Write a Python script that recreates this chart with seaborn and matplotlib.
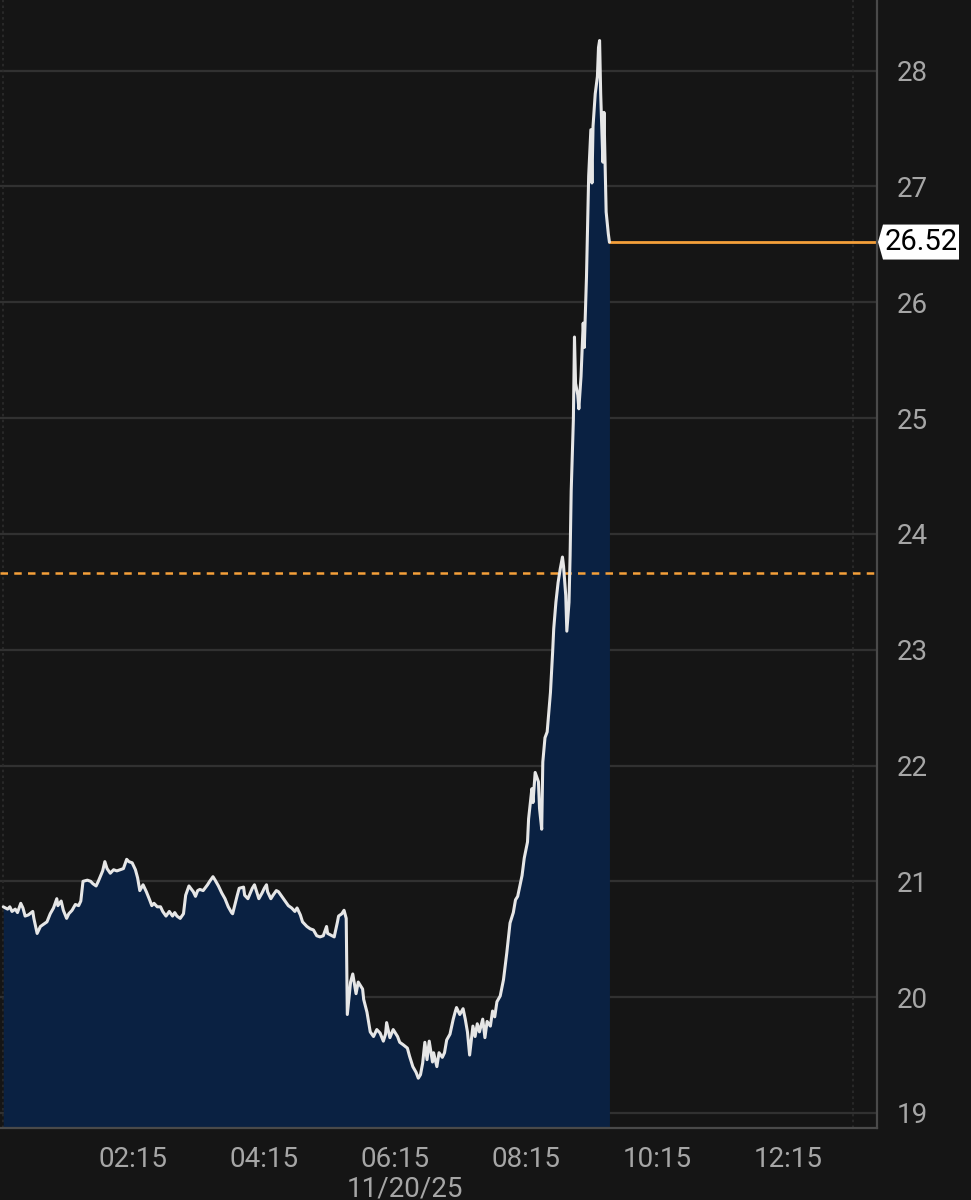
import pandas as pd
import matplotlib
matplotlib.use("Agg")
import matplotlib.pyplot as plt
import matplotlib.transforms as mtransforms
from matplotlib.patches import Polygon
import seaborn as sns

# Intraday prints (time, value)
times = [
    "00:16", "00:20", "00:22", "00:24", "00:27", "00:29", "00:32", "00:34", "00:36", "00:39",
    "00:43", "00:44", "00:47", "00:50", "00:53", "00:56", "00:59", "01:02", "01:05", "01:06",
    "01:09", "01:11", "01:14", "01:16", "01:19", "01:22", "01:25", "01:27", "01:29", "01:33",
    "01:36", "01:38", "01:41", "01:43", "01:47", "01:49", "01:51", "01:54", "01:57", "02:00",
    "02:03", "02:06", "02:09", "02:11", "02:14", "02:17", "02:19", "02:21", "02:24", "02:27",
    "02:30", "02:32", "02:34", "02:37", "02:40", "02:42", "02:45", "02:48", "02:51", "02:53",
    "02:55", "02:58", "03:01", "03:03", "03:06", "03:10", "03:12", "03:14", "03:16", "03:19",
    "03:23", "03:25", "03:28", "03:30", "03:33", "03:36", "03:39", "03:42", "03:45", "03:46",
    "03:50", "03:52", "03:56", "03:57", "04:00", "04:04", "04:06", "04:08", "04:10", "04:13",
    "04:15", "04:17", "04:18", "04:21", "04:23", "04:26", "04:28", "04:31", "04:34", "04:37",
    "04:40", "04:43", "04:45", "04:48", "04:50", "04:54", "04:57", "05:00", "05:03", "05:06",
    "05:09", "05:12", "05:13", "05:17", "05:19", "05:22", "05:23", "05:26", "05:28", "05:30",
    "05:31", "05:34", "05:36", "05:39", "05:41", "05:45", "05:46", "05:49", "05:52", "05:55",
    "05:58", "06:01", "06:04", "06:06", "06:07", "06:10", "06:13", "06:17", "06:19", "06:22",
    "06:26", "06:28", "06:31", "06:34", "06:36", "06:38", "06:40", "06:42", "06:44", "06:46",
    "06:49", "06:50", "06:53", "06:55", "06:58", "07:00", "07:02", "07:05", "07:08", "07:10",
    "07:11", "07:14", "07:17", "07:19", "07:21", "07:23", "07:26", "07:28", "07:30", "07:32",
    "07:35", "07:37", "07:39", "07:42", "07:44", "07:46", "07:48", "07:51", "07:54", "07:57",
    "08:00", "08:03", "08:05", "08:07", "08:11", "08:13", "08:16", "08:17", "08:20", "08:21",
    "08:23", "08:26", "08:27", "08:29", "08:30", "08:32", "08:34", "08:36", "08:37", "08:39",
    "08:40", "08:42", "08:44", "08:46", "08:48", "08:49", "08:51", "08:52", "08:54", "08:55",
    "08:56", "08:58", "08:59", "09:00", "09:02", "09:03", "09:05", "09:07", "09:08", "09:10",
    "09:11", "09:12", "09:14", "09:15", "09:16", "09:18", "09:20", "09:21", "09:22", "09:23",
    "09:24", "09:25", "09:26", "09:27", "09:28", "09:30", "09:31",
]
values = [
    20.78, 20.76, 20.78, 20.74, 20.76, 20.73, 20.81, 20.77, 20.70, 20.71,
    20.74, 20.68, 20.55, 20.61, 20.63, 20.65, 20.72, 20.77, 20.85, 20.79,
    20.83, 20.75, 20.68, 20.72, 20.75, 20.80, 20.79, 20.83, 21.00, 21.01,
    21.00, 20.98, 20.96, 21.00, 21.09, 21.17, 21.11, 21.07, 21.10, 21.09,
    21.10, 21.11, 21.19, 21.17, 21.16, 21.10, 21.03, 20.92, 20.97, 20.91,
    20.84, 20.79, 20.81, 20.78, 20.78, 20.74, 20.70, 20.74, 20.70, 20.73,
    20.70, 20.68, 20.72, 20.88, 20.96, 20.91, 20.87, 20.92, 20.93, 20.92,
    20.97, 21.00, 21.04, 21.01, 20.96, 20.90, 20.85, 20.78, 20.73, 20.72,
    20.87, 20.94, 20.95, 20.88, 20.85, 20.94, 20.97, 20.91, 20.85, 20.90,
    20.94, 20.97, 20.91, 20.85, 20.88, 20.92, 20.91, 20.87, 20.83, 20.79,
    20.77, 20.74, 20.77, 20.71, 20.65, 20.61, 20.59, 20.58, 20.53, 20.52,
    20.53, 20.61, 20.55, 20.53, 20.52, 20.65, 20.70, 20.72, 20.75, 20.68,
    19.85, 20.13, 20.20, 20.03, 20.13, 20.07, 19.98, 19.87, 19.70, 19.66,
    19.72, 19.69, 19.62, 19.68, 19.78, 19.65, 19.72, 19.66, 19.61, 19.59,
    19.56, 19.49, 19.40, 19.35, 19.30, 19.33, 19.43, 19.61, 19.46, 19.62,
    19.44, 19.52, 19.40, 19.52, 19.48, 19.52, 19.63, 19.68, 19.81, 19.88,
    19.91, 19.85, 19.90, 19.81, 19.70, 19.50, 19.75, 19.66, 19.77, 19.70,
    19.81, 19.65, 19.79, 19.75, 19.88, 19.83, 19.96, 20.01, 20.15, 20.38,
    20.64, 20.73, 20.84, 20.87, 21.05, 21.20, 21.34, 21.54, 21.80, 21.68,
    21.94, 21.86, 21.63, 21.45, 22.03, 22.24, 22.29, 22.52, 22.63, 22.98,
    23.18, 23.41, 23.58, 23.70, 23.80, 23.72, 23.47, 23.16, 23.41, 23.81,
    24.37, 24.99, 25.70, 25.30, 25.20, 25.08, 25.36, 25.82, 25.61, 26.22,
    26.66, 27.09, 27.49, 27.03, 27.52, 27.80, 27.95, 28.20, 28.26, 27.80,
    27.49, 27.21, 27.64, 27.21, 26.78, 26.59, 26.52,
]

last_price = 26.52
prev_close = 23.66
y_ticks = [19, 20, 21, 22, 23, 24, 25, 26, 27, 28]
x_tick_labels = ["02:15", "04:15", "06:15", "08:15", "10:15", "12:15"]
session_marks = ["00:16", "13:14"]
x_range = ["00:13", "13:36"]
y_range = [18.87, 28.61]
date_label = "11/20/25"
day = "2025-11-20 "

BG = "#151515"
FILL = "#0a2142"
LINE = "#e6e6e6"
GRID = "#313131"
SPINE = "#4a4a4a"
ORANGE = "#f5a03a"
TICK = "#a6a6a6"

df = pd.DataFrame({"time": pd.to_datetime([day + t for t in times]), "value": values})
x_lo, x_hi = pd.to_datetime([day + t for t in x_range])

sns.set_theme(style="dark", rc={"axes.facecolor": BG, "figure.facecolor": BG})
plt.rcParams["font.family"] = ["Roboto", "DejaVu Sans"]

fig = plt.figure(figsize=(9.71, 12), dpi=100, facecolor=BG)
ax = fig.add_axes([0.0, 0.06, 877 / 971, 0.94])
ax.set_facecolor(BG)

# gridlines and session markers
for v in y_ticks:
    ax.axhline(v, color=GRID, lw=1.6, zorder=0)
for t in session_marks:
    ax.axvline(pd.to_datetime(day + t), color="#2c2c2c", lw=1.2, ls=(0, (1.5, 2)), zorder=0)

# area + line
ax.fill_between(df["time"], df["value"], y_range[0], color=FILL, lw=0, zorder=1)
sns.lineplot(data=df, x="time", y="value", ax=ax, color=LINE, lw=2.2, zorder=3)

# previous close (dashed) and last price (solid)
ax.axhline(prev_close, color=ORANGE, lw=1.8, ls=(0, (3, 2.5)), zorder=2)
ax.plot([df["time"].iloc[-1], x_hi], [last_price, last_price], color=ORANGE, lw=2, zorder=2)

ax.set_xlim(x_lo, x_hi)
ax.set_ylim(*y_range)

# ticks
ax.set_xticks(pd.to_datetime([day + t for t in x_tick_labels]))
ax.set_xticklabels(x_tick_labels)
ax.set_yticks(y_ticks)
ax.set_yticklabels([str(v) for v in y_ticks])
ax.yaxis.tick_right()
ax.tick_params(axis="y", length=0, pad=14, labelsize=20, labelcolor=TICK)
ax.tick_params(axis="x", length=0, pad=13, labelsize=20, labelcolor=TICK)
ax.set_ylabel("")
ax.set_xlabel(date_label, fontsize=20, color=TICK, va="center")
ax.xaxis.set_label_coords(405 / 877, -0.054)

for side in ["top", "left"]:
    ax.spines[side].set_visible(False)
for side in ["right", "bottom"]:
    ax.spines[side].set_visible(True)
    ax.spines[side].set_color(SPINE)
    ax.spines[side].set_linewidth(1.6)

# last price tag on the right axis
trans = mtransforms.blended_transform_factory(ax.transAxes, ax.transData)
tag_trans = fig.dpi_scale_trans + mtransforms.ScaledTranslation(1.0, last_price, trans)
tag = Polygon([(0.01, 0), (0.06, 0.175), (0.82, 0.175), (0.82, -0.175), (0.06, -0.175)],
              closed=True, facecolor="white", edgecolor="none",
              transform=tag_trans, clip_on=False, zorder=5)
ax.add_patch(tag)
ax.text(0.44, 0, f"{last_price:.2f}", transform=tag_trans, ha="center", va="center",
        fontsize=21, color="black", clip_on=False, zorder=6)

fig.savefig("out.png", dpi=100, facecolor=BG)
